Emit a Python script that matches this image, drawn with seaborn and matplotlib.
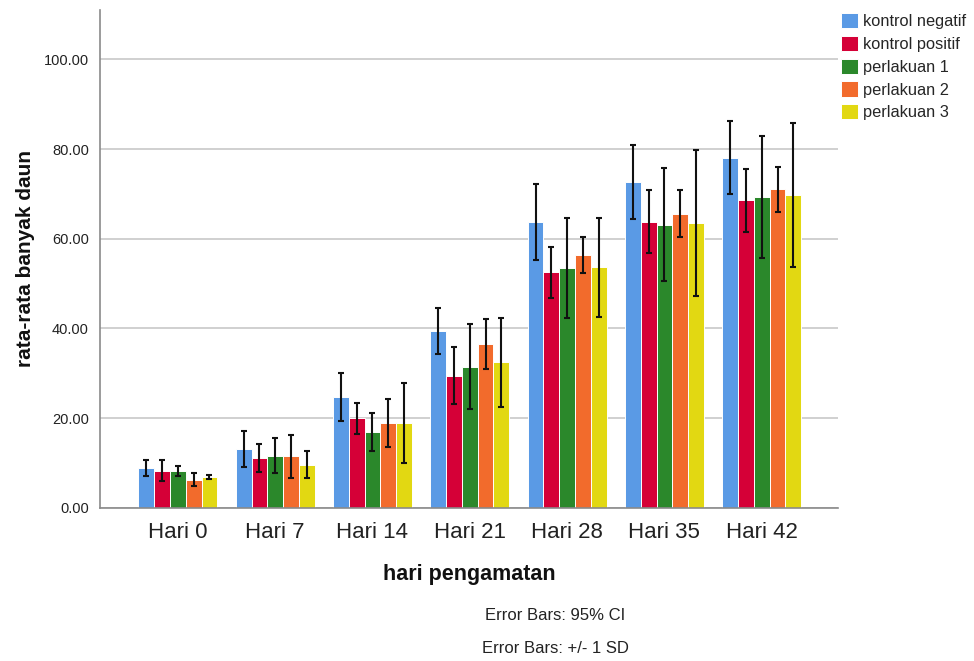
import matplotlib
matplotlib.use("Agg")
import matplotlib.pyplot as plt
import seaborn as sns
import pandas as pd
import numpy as np

# Observation days and treatment groups
days = ["Hari 0", "Hari 7", "Hari 14", "Hari 21", "Hari 28", "Hari 35", "Hari 42"]
groups = ["kontrol negatif", "kontrol positif", "perlakuan 1", "perlakuan 2", "perlakuan 3"]

# Mean leaf count per group, one value per observation day
mean_kontrol_negatif = [8.9, 13.2, 24.7, 39.5, 63.7, 72.7, 78.1]
mean_kontrol_positif = [8.3, 11.1, 20.0, 29.5, 52.5, 63.8, 68.6]
mean_perlakuan_1 = [8.3, 11.6, 16.9, 31.5, 53.5, 63.1, 69.4]
mean_perlakuan_2 = [6.3, 11.5, 18.9, 36.5, 56.3, 65.6, 71.0]
mean_perlakuan_3 = [6.9, 9.6, 18.9, 32.5, 53.6, 63.5, 69.7]

# Standard deviation per group (error bar half-length)
sd_kontrol_negatif = [1.7, 4.0, 5.4, 5.1, 8.5, 8.3, 8.2]
sd_kontrol_positif = [2.3, 3.1, 3.5, 6.4, 5.7, 7.0, 7.0]
sd_perlakuan_1 = [1.1, 3.9, 4.2, 9.5, 11.2, 12.6, 13.6]
sd_perlakuan_2 = [1.4, 4.8, 5.3, 5.6, 4.0, 5.3, 5.1]
sd_perlakuan_3 = [0.5, 3.0, 8.9, 9.9, 11.1, 16.2, 16.0]

means = [mean_kontrol_negatif, mean_kontrol_positif, mean_perlakuan_1,
         mean_perlakuan_2, mean_perlakuan_3]
sds = [sd_kontrol_negatif, sd_kontrol_positif, sd_perlakuan_1,
       sd_perlakuan_2, sd_perlakuan_3]

palette = ["#5A9AE5", "#D50037", "#2B882B", "#F26B2C", "#E2D812"]

rows = []
for g, m_list, s_list in zip(groups, means, sds):
    for d, m, s in zip(days, m_list, s_list):
        rows.append({"hari": d, "kelompok": g, "rata": m, "sd": s})
df = pd.DataFrame(rows)

sns.set_theme(style="white")
plt.rcParams["font.family"] = ["Liberation Sans", "DejaVu Sans"]

fig = plt.figure(figsize=(9.74, 6.61), dpi=100)
ax = fig.add_axes([0.1027, 0.2315, 0.7573, 0.7535])

sns.barplot(data=df, x="hari", y="rata", hue="kelompok", order=days,
            hue_order=groups, palette=palette, errorbar=None, width=0.81,
            gap=0, edgecolor="white", linewidth=0.7, saturation=1, ax=ax,
            legend=True)

# Error bars placed on the bars seaborn drew
for container, s_list in zip(ax.containers, sds):
    for patch, s in zip(container.patches, s_list):
        xc = patch.get_x() + patch.get_width() / 2
        ax.errorbar(xc, patch.get_height(), yerr=s, fmt="none", ecolor="#111111",
                    elinewidth=1.5, capsize=2, capthick=1.5, zorder=4)

ax.set_ylim(0, 111)
ax.set_xlim(-0.8, 6.78)
ax.set_yticks(np.arange(0, 101, 20))
ax.set_yticklabels([f"{v:.2f}" for v in np.arange(0, 101, 20)], fontsize=10.5,
                   color="#222222")
ax.tick_params(axis="y", length=0, pad=8)
ax.tick_params(axis="x", length=0, pad=10, labelsize=16, labelcolor="#222222")

ax.yaxis.grid(True, color="#c4c4c4", linewidth=1.1)
ax.set_axisbelow(True)
for side in ["top", "right"]:
    ax.spines[side].set_visible(False)
for side in ["left", "bottom"]:
    ax.spines[side].set_color("#8a8a8a")
    ax.spines[side].set_linewidth(1.2)

ax.set_xlabel("hari pengamatan", fontsize=15.5, fontweight="bold", labelpad=15,
              color="#111111")
ax.set_ylabel("rata-rata banyak daun", fontsize=15, fontweight="bold", labelpad=6,
              color="#111111")

handles, labels = ax.get_legend_handles_labels()
ax.legend_.remove()
fig.legend(handles, labels, loc="upper left", bbox_to_anchor=(0.863, 0.980),
           frameon=False, fontsize=11.8, handlelength=1.05, handleheight=1.05,
           handletextpad=0.3, labelspacing=0.4, borderaxespad=0,
           borderpad=0)

fig.text(0.57, 0.069, "Error Bars: 95% CI", ha="center", va="center",
         fontsize=12, color="#222222")
fig.text(0.57, 0.019, "Error Bars: +/- 1 SD", ha="center", va="center",
         fontsize=12, color="#222222")

fig.savefig("out.png", dpi=100)
